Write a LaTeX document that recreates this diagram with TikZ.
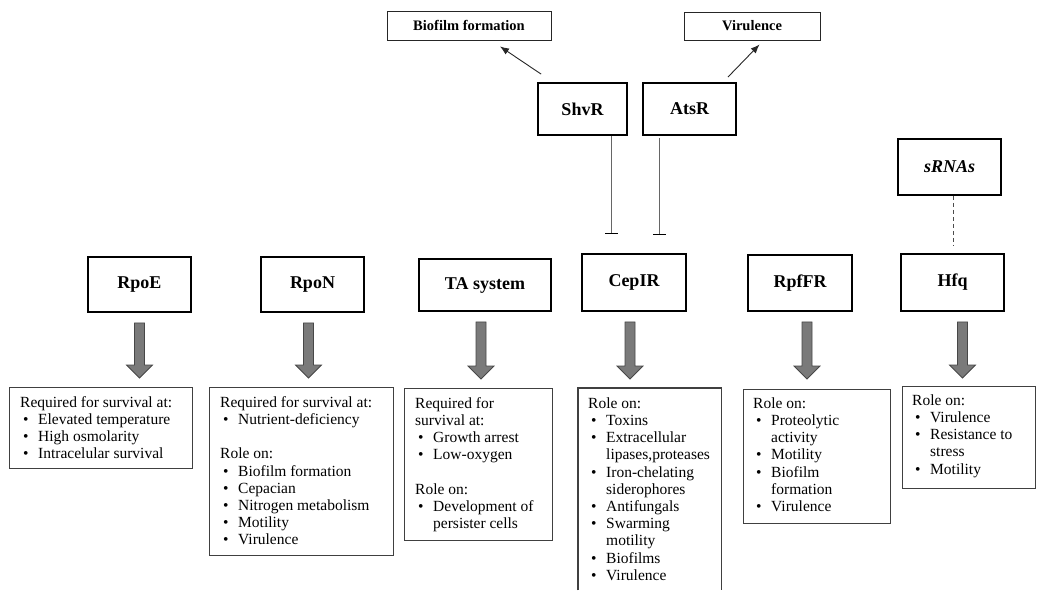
\documentclass[tikz,border=0pt]{standalone}
\usepackage{fontspec}
\setmainfont{Liberation Serif}
\usetikzlibrary{arrows.meta,calc}
\newcommand{\hd}[1]{\multicolumn{2}{@{}l@{}}{#1}}
\newcommand{\bul}{\hspace*{3pt}\textbullet}
\newenvironment{blist}{\begin{tabular}{@{}p{18pt}@{}l@{}}}{\end{tabular}}
\newcommand{\bigarrow}[2]{%
  \path[garrow] let \p1=(#1), \p2=(#2) in
  (\x1-5pt,\y1) -- (\x1+5pt,\y1) -- (\x1+5pt,\y2+13pt) -- (\x1+13pt,\y2+13pt)
  -- (\x1,\y2) -- (\x1-13pt,\y2+13pt) -- (\x1-5pt,\y2+13pt) -- cycle;}
\begin{document}
\begin{tikzpicture}[x=1pt,y=-1pt,
  hdr/.style={draw=black, line width=1.8pt, inner sep=0pt, font=\fontsize{18}{21}\selectfont\bfseries},
  topbox/.style={draw=black!85, line width=0.9pt, inner sep=0pt, font=\fontsize{14.5}{17}\selectfont\bfseries},
  infobox/.style={draw=black!75, line width=1.1pt, inner sep=0pt, anchor=north west},
  infotext/.style={inner sep=0pt, anchor=north west, font=\fontsize{15.5}{17.2}\selectfont, align=left},
  garrow/.style={fill=black!52, draw=black!72, line width=0.8pt},
  inhib/.style={draw=black!60, line width=0.9pt, -{Bar[width=13pt,line width=1.1pt,color=black]}},
  act/.style={draw=black!85, line width=0.9pt, -{Latex[length=9pt,width=7pt]}},
  dashlink/.style={draw=black!70, line width=0.9pt, dash pattern=on 4pt off 3pt},
]
\useasboundingbox (0,0) rectangle (1038,590);

% top boxes
\node[topbox, minimum width=164pt, minimum height=29pt] (bio) at (469,25.5) {Biofilm formation};
\node[topbox, minimum width=136pt, minimum height=28pt] (vir) at (752,26) {Virulence};
\node[hdr, minimum width=89pt, minimum height=52pt] (shvr) at (582.5,109) {ShvR};
\node[hdr, minimum width=93pt, minimum height=52pt] (atsr) at (689.5,109) {AtsR};
\node[hdr, minimum width=103pt, minimum height=56pt] (srna) at (949.5,167) {\itshape sRNAs};

% header row
\node[hdr, minimum width=103pt, minimum height=55pt] (rpoe) at (139.5,284.5) {RpoE};
\node[hdr, minimum width=103pt, minimum height=55pt] (rpon) at (312.5,284.5) {RpoN};
\node[hdr, minimum width=132pt, minimum height=52pt] (ta) at (485,285) {TA system};
\node[hdr, minimum width=104pt, minimum height=57pt] (cepir) at (634,282.5) {CepIR};
\node[hdr, minimum width=104pt, minimum height=56pt] (rpffr) at (800,283) {RpfFR};
\node[hdr, minimum width=103pt, minimum height=57pt] (hfq) at (952.5,282.5) {Hfq};

% info boxes
\node[infobox, minimum width=183pt, minimum height=81pt] (rpoeinfo) at (9,387) {};
\node[infotext] (rpoetext) at (20,395) {\begin{blist}
\hd{Required for survival at:}\\
\bul & Elevated temperature\\
\bul & High osmolarity\\
\bul & Intracelular survival
\end{blist}};

\node[infobox, minimum width=184pt, minimum height=168pt] (rponinfo) at (209,387) {};
\node[infotext] (rpontext) at (220,395) {\begin{blist}
\hd{Required for survival at:}\\
\bul & Nutrient-deficiency\\
 & \\
\hd{Role on:}\\
\bul & Biofilm formation\\
\bul & Cepacian\\
\bul & Nitrogen metabolism\\
\bul & Motility\\
\bul & Virulence
\end{blist}};

\node[infobox, minimum width=148pt, minimum height=152pt] (tainfo) at (404,388) {};
\node[infotext] (tatext) at (415,396) {\begin{blist}
\hd{Required for}\\
\hd{survival at:}\\
\bul & Growth arrest\\
\bul & Low-oxygen\\
 & \\
\hd{Role on:}\\
\bul & Development of\\
 & persister cells
\end{blist}};

\node[anchor=north west, inner sep=0pt, minimum width=143pt, minimum height=202pt] (cepinfo) at (578,388) {};
\draw[draw=black!75, line width=1.1pt] (cepinfo.south west) -- (cepinfo.north west) -- (cepinfo.north east) -- (cepinfo.south east);
\node[infotext] (ceptext) at (588,396) {\begin{blist}
\hd{Role on:}\\
\bul & Toxins\\
\bul & Extracellular\\
 & lipases,proteases\\
\bul & Iron-chelating\\
 & siderophores\\
\bul & Antifungals\\
\bul & Swarming\\
 & motility\\
\bul & Biofilms\\
\bul & Virulence
\end{blist}};

\node[infobox, minimum width=147pt, minimum height=134pt] (rpffrinfo) at (743,389) {};
\node[infotext] (rpffrtext) at (753,396) {\begin{blist}
\hd{Role on:}\\
\bul & Proteolytic\\
 & activity\\
\bul & Motility\\
\bul & Biofilm\\
 & formation\\
\bul & Virulence
\end{blist}};

\node[infobox, minimum width=133pt, minimum height=102pt] (hfqinfo) at (902,386) {};
\node[infotext] (hfqtext) at (912,393) {\begin{blist}
\hd{Role on:}\\
\bul & Virulence\\
\bul & Resistance to\\
 & stress\\
\bul & Motility
\end{blist}};

% gray arrows
\coordinate (s1) at ($(rpoe.south)+(0,10)$);   \coordinate (e1) at ($(s1 |- rpoeinfo.north)+(0,-9)$);
\coordinate (s2) at ($(rpon.south)+(-4,10)$);  \coordinate (e2) at ($(s2 |- rponinfo.north)+(0,-9)$);
\coordinate (s3) at ($(ta.south)+(-4,10)$);    \coordinate (e3) at ($(s3 |- tainfo.north)+(0,-9)$);
\coordinate (s4) at ($(cepir.south)+(-4,10)$); \coordinate (e4) at ($(s4 |- cepinfo.north)+(0,-9)$);
\coordinate (s5) at ($(rpffr.south)+(7,10)$);  \coordinate (e5) at ($(s5 |- rpffrinfo.north)+(0,-10)$);
\coordinate (s6) at ($(hfq.south)+(10,10)$);   \coordinate (e6) at ($(s6 |- hfqinfo.north)+(0,-8)$);
\bigarrow{s1}{e1}
\bigarrow{s2}{e2}
\bigarrow{s3}{e3}
\bigarrow{s4}{e4}
\bigarrow{s5}{e5}
\bigarrow{s6}{e6}

% regulatory links
\draw[act] ($(shvr.north west)+(4,-8)$) -- ($(bio.south)+(31,6)$);
\draw[act] ($(atsr.north east)+(-9,-5)$) -- ($(vir.south west)+(76,4)$);
\draw[inhib] ($(shvr.south)+(28.5,0)$) -- ($(cepir.north)+(-23,-19)$);
\draw[inhib] ($(atsr.south)+(-30.5,2)$) -- ($(cepir.north)+(25,-18)$);
\draw[dashlink] ($(srna.south)+(3.5,0)$) -- ($(hfq.north)+(0.5,-8)$);
\end{tikzpicture}
\end{document}
